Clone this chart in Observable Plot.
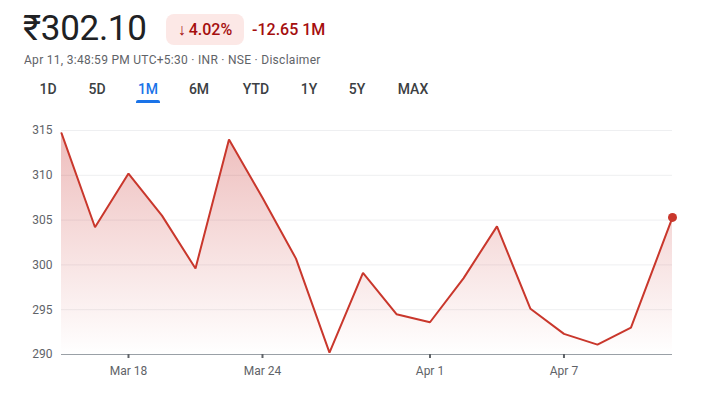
<!DOCTYPE html>
<html>
<head>
<meta charset="utf-8">
<script src="https://cdn.jsdelivr.net/npm/d3@7"></script>
<script src="https://cdn.jsdelivr.net/npm/@observablehq/plot@0.6"></script>
<style>
  html, body { margin: 0; padding: 0; background: #fff; }
  body { width: 721px; height: 393px; position: relative; overflow: hidden; font-family: Roboto, "Noto Sans", sans-serif; }
  .abs { position: absolute; white-space: nowrap; }
  #price { left: 23px; top: 8px; font-size: 35px; color: #202124; letter-spacing: -0.3px; }
  #badge { left: 166px; top: 14px; width: 78px; height: 31px; border-radius: 8px; background: #fce8e6; color: #a50e0e; font-size: 16px; font-weight: 500; line-height: 31px; text-align: center; }
  #badge .arr { margin-right: 3px; }
  #change { left: 252px; top: 14px; line-height: 31px; font-size: 16px; font-weight: 500; color: #a50e0e; }
  #sub { left: 24px; top: 53px; font-size: 12px; color: #5f6368; letter-spacing: 0.28px; }
  .tab { top: 81px; font-size: 14px; font-weight: 500; color: #3c4043; transform: translateX(-50%); }
  .tab.active { color: #1a73e8; }
  #underline { top: 100px; height: 3px; border-radius: 2px 2px 0 0; background: #1a73e8; }
  #chart { left: 0; top: 110px; }
</style>
</head>
<body>
<div id="price" class="abs"></div>
<div id="badge" class="abs"><span class="arr"></span><span class="pct"></span></div>
<div id="change" class="abs"></div>
<div id="sub" class="abs"></div>
<div id="tabs"></div>
<div id="chart" class="abs"></div>
<script>
// ---- data ----
const dates = ["Mar 13","Mar 17","Mar 18","Mar 19","Mar 20","Mar 21","Mar 24","Mar 25","Mar 26","Mar 27","Mar 28","Apr 1","Apr 2","Apr 3","Apr 4","Apr 7","Apr 8","Apr 9","Apr 11"];
const prices = [314.7, 304.2, 310.2, 305.5, 299.6, 314.0, 307.5, 300.7, 290.2, 299.1, 294.5, 293.6, 298.5, 304.3, 295.1, 292.3, 291.1, 293.0, 305.3];
// trading-session position of each point (the live point sits a bit past the last session)
const sessionPos = [0,1,2,3,4,5,6,7,8,9,10,11,12,13,14,15,16,17,18.24];
const xTickLabels = ["Mar 18","Mar 24","Apr 1","Apr 7"];
const yTicks = [290, 295, 300, 305, 310, 315];
const yDomain = [290, 315];
const tabs = ["1D","5D","1M","6M","YTD","1Y","5Y","MAX"];
const activeTab = "1M";
const header = { price: "₹302.10", arrow: "↓", pct: "4.02%", change: "-12.65 1M", sub: "Apr 11, 3:48:59 PM UTC+5:30 · INR · NSE · Disclaimer" };

// ---- header ----
document.getElementById("price").textContent = header.price;
document.querySelector("#badge .arr").textContent = header.arrow;
document.querySelector("#badge .pct").textContent = header.pct;
document.getElementById("change").textContent = header.change;
document.getElementById("sub").textContent = header.sub;
const tabCenters = [48, 97, 148, 199, 256, 309, 357, 413];
const tabsDiv = document.getElementById("tabs");
tabs.forEach((t, i) => {
  const d = document.createElement("div");
  d.className = "abs tab" + (t === activeTab ? " active" : "");
  d.style.left = tabCenters[i] + "px";
  d.textContent = t;
  tabsDiv.appendChild(d);
  if (t === activeTab) {
    const u = document.createElement("div");
    u.id = "underline"; u.className = "abs";
    u.style.left = (tabCenters[i] - 12) + "px";
    u.style.width = "24px";
    tabsDiv.appendChild(u);
  }
});

// ---- chart ----
const data = dates.map((d, i) => ({date: d, pos: sessionPos[i], price: prices[i]}));
const xTickPos = xTickLabels.map(l => sessionPos[dates.indexOf(l)]);
const lineColor = "#c9372c";

const chart = Plot.plot({
  width: 721,
  height: 283,
  marginLeft: 61,
  marginRight: 49,
  marginTop: 20,
  marginBottom: 39,
  style: {fontFamily: "Roboto, 'Noto Sans', sans-serif", fontSize: "12px", background: "transparent", overflow: "visible"},
  x: {domain: [0, d3.max(sessionPos)], axis: null},
  y: {domain: yDomain, axis: null},
  marks: [
    Plot.ruleY(yTicks.filter(t => t > yDomain[0]), {stroke: "#eeeff1", strokeWidth: 1}),
    Plot.areaY(data, {x: "pos", y1: yDomain[0], y2: "price", fill: "url(#priceFill)"}),
    Plot.ruleY([yDomain[0]], {stroke: "#9aa0a6", strokeWidth: 1}),
    Plot.axisY({ticks: yTicks, label: null, tickSize: 0, tickPadding: 9, fill: "#5f6368", fontSize: 12}),
    Plot.axisX({ticks: xTickPos, label: null, tickFormat: v => xTickLabels[xTickPos.indexOf(v)], tickSize: 4, tickPadding: 8, stroke: "#5f6368", strokeWidth: 2, fill: "#5f6368", fontSize: 12}),
    Plot.lineY(data, {x: "pos", y: "price", stroke: lineColor, strokeWidth: 2, strokeLinejoin: "miter"}),
    Plot.dot(data.slice(-1), {x: "pos", y: "price", r: 4.5, fill: lineColor, stroke: "none"})
  ]
});

const svg = d3.select(chart);
const grad = svg.insert("defs", ":first-child").append("linearGradient")
  .attr("id", "priceFill")
  .attr("gradientUnits", "userSpaceOnUse")
  .attr("x1", 0).attr("x2", 0).attr("y1", 20).attr("y2", 244);
grad.append("stop").attr("offset", "0%").attr("stop-color", "#c5221f").attr("stop-opacity", 0.3);
grad.append("stop").attr("offset", "100%").attr("stop-color", "#c5221f").attr("stop-opacity", 0);

document.getElementById("chart").appendChild(chart);
</script>
</body>
</html>
